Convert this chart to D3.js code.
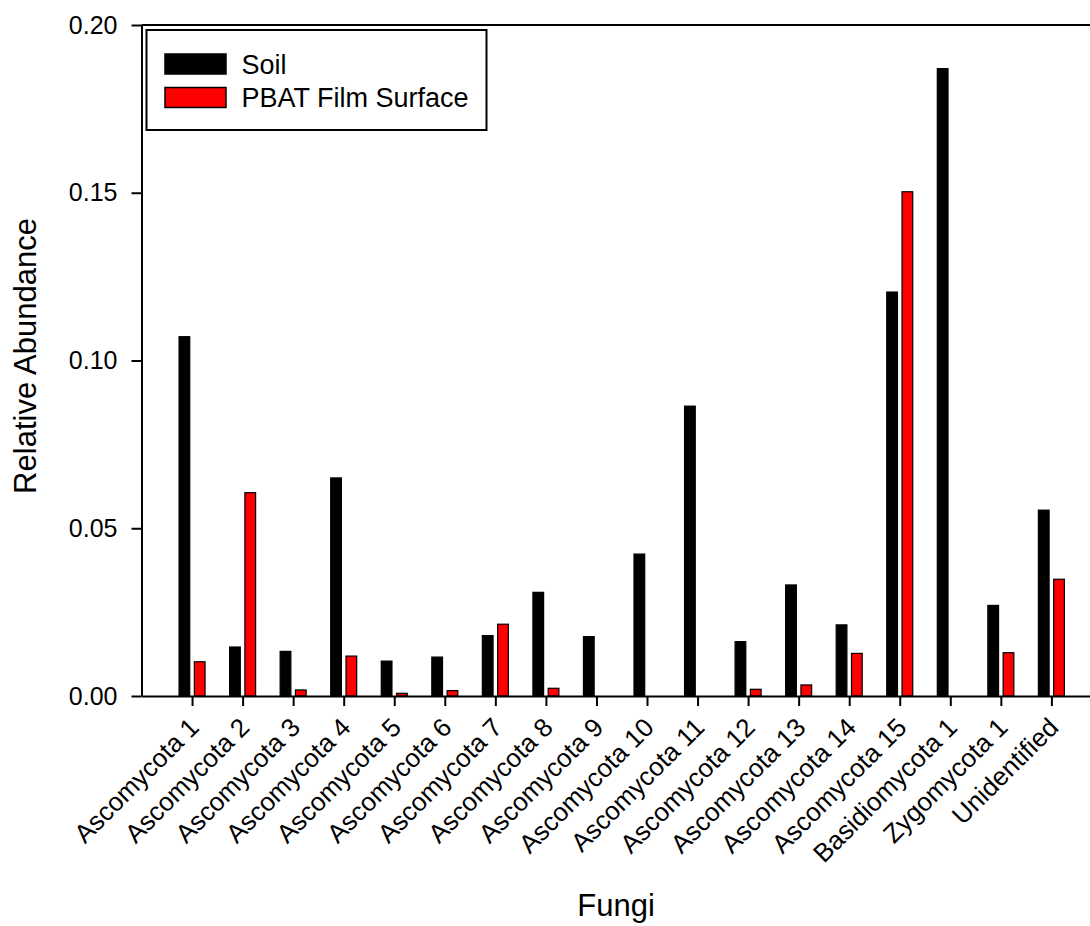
<!DOCTYPE html>
<html>
<head>
<meta charset="utf-8">
<script src="https://cdn.jsdelivr.net/npm/d3@7"></script>
<style>
  html, body { margin: 0; padding: 0; background: #ffffff; }
  svg { display: block; font-family: "Liberation Sans", Arial, sans-serif; }
</style>
</head>
<body>
<svg id="chart" width="1090" height="926"></svg>
<script>
// Fungal taxa on the x axis
const categories = [
  "Ascomycota 1", "Ascomycota 2", "Ascomycota 3", "Ascomycota 4", "Ascomycota 5",
  "Ascomycota 6", "Ascomycota 7", "Ascomycota 8", "Ascomycota 9", "Ascomycota 10",
  "Ascomycota 11", "Ascomycota 12", "Ascomycota 13", "Ascomycota 14", "Ascomycota 15",
  "Basidiomycota 1", "Zygomycota 1", "Unidentified"
];

// Relative abundance per taxon
const soilValues = [
  0.1071, 0.0146, 0.0133, 0.0650, 0.0104, 0.0116, 0.0180, 0.0309, 0.0177, 0.0423,
  0.0864, 0.0162, 0.0331, 0.0212, 0.1204, 0.1870, 0.0270, 0.0554
];
const filmValues = [
  0.0102, 0.0606, 0.0018, 0.0119, 0.0008, 0.0016, 0.0214, 0.0023, 0, 0,
  0, 0.0020, 0.0033, 0.0127, 0.1503, 0, 0.0129, 0.0348
];

const seriesNames = ["Soil", "PBAT Film Surface"];
const seriesColors = ["#000000", "#ff0000"];
const yTickValues = [0, 0.05, 0.10, 0.15, 0.20];

const svg = d3.select("#chart");

const plot = { left: 141.5, top: 25, bottom: 696 };
const step = 50.55;

// Category slots sit at 1..N on a 0..N+1 axis
const x = d3.scaleLinear()
  .domain([0, categories.length + 1])
  .range([plot.left, plot.left + (categories.length + 1) * step]);

const y = d3.scaleLinear()
  .domain([0, 0.20])
  .range([plot.bottom, plot.top]);

// Sub-band for the two series within each category
const sub = d3.scaleBand()
  .domain(seriesNames)
  .range([-13, 13])
  .paddingInner(0.3);

const rows = categories.map((c, i) => ({
  name: c,
  pos: i + 1,
  values: [soilValues[i], filmValues[i]]
}));

// Bars
const groups = svg.append("g")
  .selectAll("g")
  .data(rows)
  .join("g")
  .attr("transform", d => `translate(${x(d.pos)},0)`);

groups.selectAll("rect")
  .data(d => d.values.map((v, k) => ({ v, k })).filter(e => e.v > 0))
  .join("rect")
  .attr("x", e => sub(seriesNames[e.k]))
  .attr("width", sub.bandwidth())
  .attr("y", e => y(e.v))
  .attr("height", e => y(0) - y(e.v))
  .attr("fill", e => seriesColors[e.k])
  .attr("stroke", "#000")
  .attr("stroke-width", 1.2);

// Y axis
const yAxis = svg.append("g")
  .attr("transform", `translate(${plot.left},0)`)
  .call(d3.axisLeft(y)
    .tickValues(yTickValues)
    .tickFormat(d3.format(".2f"))
    .tickSize(10)
    .tickSizeOuter(0)
    .tickPadding(14));
yAxis.select(".domain").attr("stroke-width", 2);
yAxis.selectAll(".tick line").attr("stroke-width", 2);
yAxis.selectAll(".tick text")
  .attr("font-size", 25)
  .attr("fill", "#000")
  .style("font-family", "'Liberation Sans', Arial, sans-serif");

// X axis
const xAxis = svg.append("g")
  .attr("transform", `translate(0,${plot.bottom})`)
  .call(d3.axisBottom(x)
    .tickValues(rows.map(r => r.pos))
    .tickFormat(p => categories[p - 1])
    .tickSize(10)
    .tickSizeOuter(0));
xAxis.select(".domain").attr("stroke-width", 2);
xAxis.selectAll(".tick line").attr("stroke-width", 2);
xAxis.selectAll(".tick text")
  .attr("font-size", 26)
  .attr("fill", "#000")
  .attr("text-anchor", "end")
  .attr("dy", null)
  .attr("y", null)
  .attr("transform", "translate(8,33) rotate(-45)")
  .style("font-family", "'Liberation Sans', Arial, sans-serif");

// Top frame line
svg.append("line")
  .attr("x1", plot.left).attr("x2", x(categories.length + 1))
  .attr("y1", y(0.20)).attr("y2", y(0.20))
  .attr("stroke", "#000").attr("stroke-width", 2);

// Axis titles
svg.append("text")
  .attr("transform", `translate(36,356) rotate(-90)`)
  .attr("text-anchor", "middle")
  .attr("font-size", 31)
  .attr("fill", "#000")
  .text("Relative Abundance");

svg.append("text")
  .attr("x", 616)
  .attr("y", 916)
  .attr("text-anchor", "middle")
  .attr("font-size", 31)
  .attr("fill", "#000")
  .text("Fungi");

// Legend
const legend = svg.append("g");
legend.append("rect")
  .attr("x", 146.5).attr("y", 30)
  .attr("width", 340).attr("height", 100)
  .attr("fill", "#fff")
  .attr("stroke", "#000").attr("stroke-width", 2);

const legendRows = legend.selectAll("g.item")
  .data(seriesNames)
  .join("g")
  .attr("class", "item")
  .attr("transform", (d, i) => `translate(0,${i * 33.5})`);

legendRows.append("rect")
  .attr("x", 165).attr("y", 54)
  .attr("width", 61).attr("height", 20)
  .attr("fill", (d, i) => seriesColors[i])
  .attr("stroke", "#000").attr("stroke-width", 1.5);

legendRows.append("text")
  .attr("x", 241.5).attr("y", 73.5)
  .attr("font-size", 27)
  .attr("fill", "#000")
  .text(d => d);
</script>
</body>
</html>
